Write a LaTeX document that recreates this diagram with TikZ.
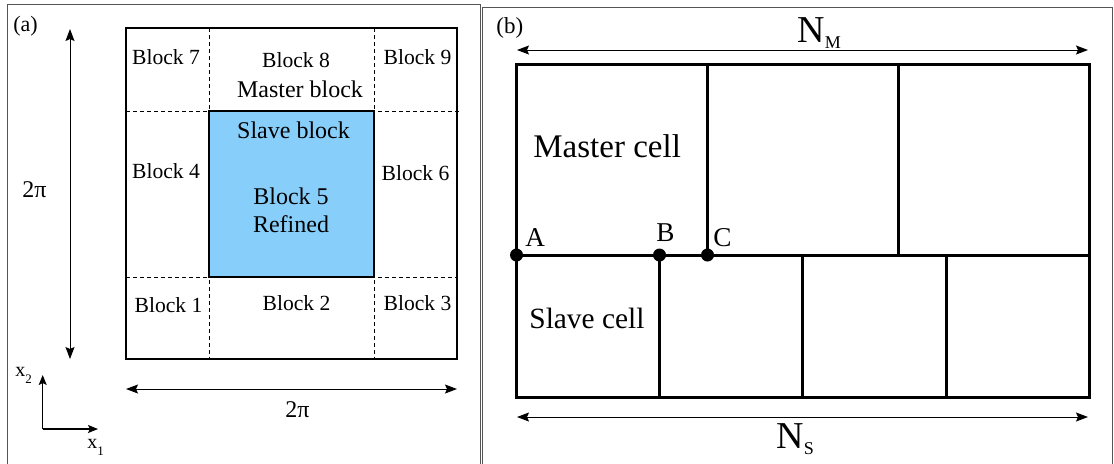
\documentclass[tikz,border=0pt]{standalone}
\usepackage{fontspec}
\setmainfont{Liberation Serif}
\usepackage{xcolor}
\usetikzlibrary{positioning,arrows.meta}
\definecolor{refinedblue}{HTML}{87CEFA}
\definecolor{framegray}{HTML}{555555}

\begin{document}
\begin{tikzpicture}[
x=0.5pt,
y=-0.5pt,
blocklabel/.style={
anchor=base,
inner sep=0pt,
font=\fontsize{10.8}{13}\selectfont
},
biglabel/.style={
anchor=base,
inner sep=0pt,
font=\fontsize{12}{14}\selectfont
},
celllabel/.style={
anchor=base west,
inner sep=0pt
},
panelframe/.style={
draw=framegray,
line width=0.5pt
},
gridline/.style={
dash pattern=on 2pt off 1.5pt,
line width=0.4pt
},
cellline/.style={
line width=1.5pt
},
dimarrow/.style={
{Stealth[length=6pt,width=4.5pt,inset=1pt]}-{Stealth[length=6pt,width=4.5pt,inset=1pt]},
line width=0.5pt
},
axisarrow/.style={
-{Stealth[length=5pt,width=4pt,inset=1pt]},
line width=0.6pt
},
junction/.style={
circle,
fill,
inner sep=0pt,
minimum size=6.5pt
}
]

\useasboundingbox (0,0) rectangle (1114,463);

\draw[panelframe] (7,470) -- (7,4) -- (480,4) -- (480,470);

\draw[panelframe] (482,470) -- (482,7) -- (1112,7) -- (1112,470);

\node[anchor=base west,inner sep=0pt,font=\fontsize{11}{13}\selectfont] (labela) at (13,31) {(a)};

\node[anchor=base west,inner sep=0pt,font=\fontsize{11.5}{13}\selectfont] (labelb) at (496,33) {(b)};

\coordinate (domNW) at (126,28);
\coordinate (domSE) at (457,359);
\coordinate (slaveNW) at (209,111);
\coordinate (slaveSE) at (374,277);

\draw[gridline] (slaveNW |- domNW) -- (slaveNW |- domSE);
\draw[gridline] (slaveSE |- domNW) -- (slaveSE |- domSE);
\draw[gridline] (domNW |- slaveNW) -- ([xshift=1.5pt]domSE |- slaveNW);
\draw[gridline] (domNW |- slaveSE) -- (domSE |- slaveSE);

\draw[line width=1pt,fill=refinedblue] (slaveNW) rectangle (slaveSE);

\draw[line width=1pt] (domNW) rectangle (domSE);

\node[blocklabel] (block7) at (166,64) {Block 7};
\node[blocklabel] (block8) at (296,67) {Block 8};
\node[biglabel] (master) at (300,97) {Master block};
\node[blocklabel] (block9) at (417.5,64) {Block 9};
\node[blocklabel] (block4) at (166,178) {Block 4};
\node[biglabel] (slave) at (293.5,138) {Slave block};
\node[biglabel] (block5) at (291,204) {Block 5};
\node[biglabel] (refined) at (291,232) {Refined};
\node[blocklabel] (block6) at (415.5,180) {Block 6};
\node[blocklabel] (block1) at (168.5,312) {Block 1};
\node[blocklabel] (block2) at (296.5,310) {Block 2};
\node[blocklabel] (block3) at (417.5,310) {Block 3};

\coordinate (vtop) at (70,29);
\coordinate (vbot) at (70,359);
\draw[dimarrow] (vtop) -- (vbot);
\node[biglabel] (heighta) at (34.5,197) {2π};

\coordinate (hleft) at (126,389);
\coordinate (hright) at (457,389);
\draw[dimarrow] (hleft) -- (hright);
\node[biglabel] (widtha) at (297.5,417) {2π};

\coordinate (origin) at (42.7,429);
\coordinate (xtip) at (98,429);
\coordinate (ytip) at (42.7,375);
\draw[axisarrow] (origin) -- (xtip);
\draw[axisarrow] (origin) -- (ytip);
\node[celllabel,font=\fontsize{10}{12}\selectfont] (xone) at (87,448) {x\raisebox{-3.5pt}{\fontsize{6.5}{7}\selectfont 1}};
\node[celllabel,font=\fontsize{10}{12}\selectfont] (xtwo) at (15,376) {x\raisebox{-3.5pt}{\fontsize{6.5}{7}\selectfont 2}};

\coordinate (gridNW) at (516.5,64.5);
\coordinate (gridSE) at (1089,397.5);
\coordinate (midW) at (516.5,255);
\coordinate (midE) at (1089,255);

\draw[cellline] (gridNW) rectangle (gridSE);
\draw[cellline] (midW) -- (midE);

\foreach \mx in {707.5,898}
\draw[cellline] (\mx,64.5) -- (\mx,255);

\foreach \sx in {659.5,802.7,946}
\draw[cellline] (\sx,255) -- (\sx,397.5);

\node[junction] (ptA) at (516.5,255) {};
\node[junction] (ptB) at (659.5,255) {};
\node[junction] (ptC) at (707.5,255) {};

\node[celllabel,font=\fontsize{13.6}{16}\selectfont] (labA) at (525,246) {A};
\node[celllabel,font=\fontsize{13.6}{16}\selectfont] (labB) at (656,241) {B};
\node[celllabel,font=\fontsize{13.6}{16}\selectfont] (labC) at (713,246) {C};

\node[celllabel,font=\fontsize{16.5}{19}\selectfont] (mastercell) at (533,157) {Master cell};
\node[celllabel,font=\fontsize{14.7}{17}\selectfont] (slavecell) at (529,328) {Slave cell};

\coordinate (nmleft) at (517,50);
\coordinate (nmright) at (1088,50);
\draw[dimarrow] (nmleft) -- (nmright);
\node[celllabel,font=\fontsize{19}{21}\selectfont] (nmaster) at (797,42) {N\raisebox{-3pt}{\fontsize{9}{10}\selectfont M}};

\coordinate (nsleft) at (517,417);
\coordinate (nsright) at (1088,417);
\draw[dimarrow] (nsleft) -- (nsright);
\node[celllabel,font=\fontsize{19}{21}\selectfont] (nslave) at (776,448) {N\raisebox{-3pt}{\fontsize{9}{10}\selectfont S}};

\end{tikzpicture}
\end{document}
